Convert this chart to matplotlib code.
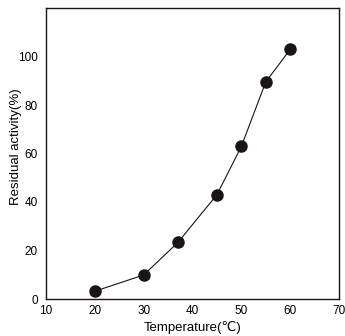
import numpy as np
import matplotlib
matplotlib.use('Agg')
import matplotlib.pyplot as plt

# temperature (C) and residual activity (%)
temperature = [20, 30, 37, 45, 50, 55, 60]
activity = [3.2, 9.9, 23.3, 43.0, 62.9, 89.5, 102.9]

xticks = [10, 20, 30, 40, 50, 60, 70]
yticks = [0, 20, 40, 60, 80, 100]

plt.rcParams['font.family'] = ['Liberation Sans', 'DejaVu Sans']

fig = plt.figure(figsize=(3.45, 3.36), dpi=100)
ax = fig.add_axes([46 / 345, 37 / 336, 293 / 345, 291 / 336])

ax.plot(temperature, activity, color='#1a1416', linewidth=0.8,
        marker='o', markersize=8, markerfacecolor='#1a1416',
        markeredgecolor='#1a1416')

ax.set_xlim(10, 70)
ax.set_ylim(0, 120)
ax.set_xticks(xticks)
ax.set_yticks(yticks)
ax.tick_params(length=0, labelsize=8.5)
ax.tick_params(axis='y', pad=6)
ax.tick_params(axis='x', pad=4)
for s in ax.spines.values():
    s.set_linewidth(1.0)
    s.set_color('#1a1416')

ax.set_xlabel('Temperature(\u2103)', fontsize=9.5, labelpad=3)
ax.set_ylabel('Residual activity(%)', fontsize=9.5)
ax.yaxis.set_label_coords(-0.083, 0.525)

plt.savefig('out.png', dpi=100)
